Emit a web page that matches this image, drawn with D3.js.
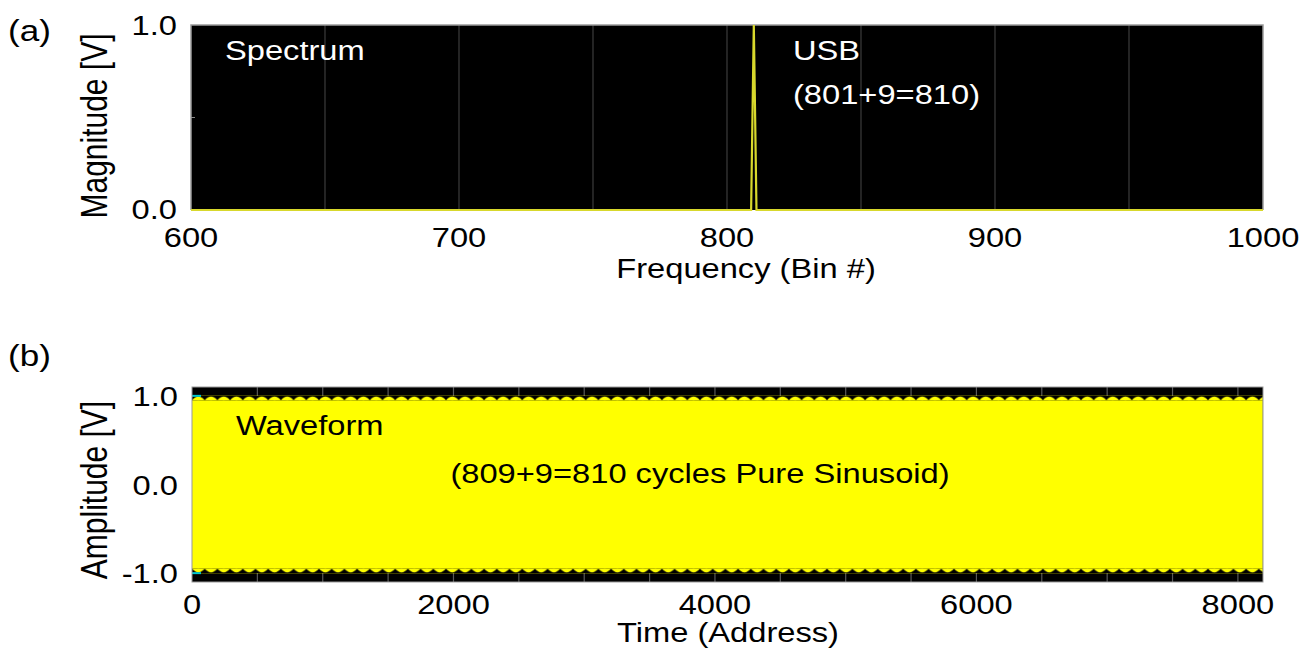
<!DOCTYPE html>
<html>
<head>
<meta charset="utf-8">
<script src="https://cdn.jsdelivr.net/npm/d3@7"></script>
<style>
  html, body { margin: 0; padding: 0; background: #fff; }
  svg { display: block; }
  text { font-family: "Liberation Sans", Arial, sans-serif; }
</style>
</head>
<body>
<svg id="chart" width="1312" height="649"></svg>
<script>
// ---- Spectrum (panel a) ----
const specBins = [600, 809, 810, 811, 1000];
const specMag  = [0.0, 0.0, 1.0, 0.0, 0.0];
const specXTicks = [600, 700, 800, 900, 1000];
const specGrid   = [650, 700, 750, 800, 850, 900, 950];
const specYTicks = [0.0, 1.0];
const specYMinor = [0.5];

// ---- Waveform (panel b): envelope of the 810-cycle sinusoid ----
const waveAddr  = [0, 8191];
const waveUpper = [1.0, 1.0];
const waveLower = [-1.0, -1.0];
const waveXTicks = [0, 2000, 4000, 6000, 8000];
const waveGrid   = d3.range(500, 8192, 500);
const waveYTicks = [1.0, 0.0, -1.0];

const FS = 27;      // label font size
const SX = 1.21;    // horizontal stretch of the lettering

const svg = d3.select("#chart");

function label(x, y, str, opts = {}) {
  const sx = opts.sx || SX;
  return svg.append("text")
    .attr("transform", `translate(${x},${y}) scale(${sx},1)` + (opts.rotate ? ` rotate(${opts.rotate})` : ""))
    .attr("text-anchor", opts.anchor || "start")
    .attr("font-size", opts.size || FS)
    .attr("fill", opts.fill || "#000")
    .text(str);
}

// ================= Panel (a) =================
const A = { left: 191, right: 1263, top: 25, bottom: 210 };
const xA = d3.scaleLinear().domain([600, 1000]).range([A.left, A.right]);
const yA = d3.scaleLinear().domain([0, 1]).range([A.bottom, A.top]);

svg.append("rect")
  .attr("x", A.left).attr("y", A.top)
  .attr("width", A.right - A.left).attr("height", A.bottom - A.top)
  .attr("fill", "#000");

svg.append("g").selectAll("line").data(specGrid).join("line")
  .attr("x1", d => xA(d)).attr("x2", d => xA(d))
  .attr("y1", A.top).attr("y2", A.bottom)
  .attr("stroke", "#3c3c3c").attr("stroke-width", 1.2);

svg.append("g").selectAll("line").data(specYMinor).join("line")
  .attr("x1", A.left).attr("x2", A.left + 4)
  .attr("y1", d => yA(d)).attr("y2", d => yA(d))
  .attr("stroke", "#888").attr("stroke-width", 1);

svg.append("path")
  .attr("d", `M${A.left},${A.bottom}V${A.top}H${A.right}V${A.bottom}`)
  .attr("fill", "none").attr("stroke", "#9a9a9a").attr("stroke-width", 1.5);

const specLine = d3.line().x((d, i) => xA(specBins[i])).y(d => yA(d));
svg.append("path")
  .datum(specMag)
  .attr("d", specLine)
  .attr("fill", "none")
  .attr("stroke", "#d8d82c")
  .attr("stroke-width", 2.2)
  .attr("stroke-linejoin", "miter");

specYTicks.forEach(v => label(177, yA(v) + (v === 1 ? 10 : 9), v.toFixed(1), { anchor: "end" }));
specXTicks.forEach(v => label(xA(v), 247, String(v), { anchor: "middle" }));
label(746, 278, "Frequency (Bin #)", { anchor: "middle" });
label(107, 126, "Magnitude [V]", { anchor: "middle", rotate: -90, size: 30, sx: 1.25 });
label(8, 41, "(a)", { size: 29 });
label(225, 60, "Spectrum", { fill: "#fff" });
label(793, 60, "USB", { fill: "#fff" });
label(793, 104, "(801+9=810)", { fill: "#fff" });

// ================= Panel (b) =================
const B = { left: 192, right: 1263, top: 387, bottom: 582 };
const xB = d3.scaleLinear().domain([0, 8192]).range([B.left, B.right]);
const yB = d3.scaleLinear().domain([-1.1, 1.1]).range([B.bottom, B.top]);

svg.append("rect")
  .attr("x", B.left).attr("y", B.top)
  .attr("width", B.right - B.left).attr("height", B.bottom - B.top)
  .attr("fill", "#000");

svg.append("g").selectAll("line").data(waveGrid).join("line")
  .attr("x1", d => xB(d)).attr("x2", d => xB(d))
  .attr("y1", B.top).attr("y2", B.bottom)
  .attr("stroke", "#5a5a5a").attr("stroke-width", 1.2);

const waveArea = d3.area()
  .x((d, i) => xB(waveAddr[i]))
  .y0((d, i) => yB(waveLower[i]))
  .y1(d => yB(d));
svg.append("path")
  .datum(waveUpper)
  .attr("d", waveArea)
  .attr("fill", "#ffff00");

// scalloped edge left by the sampled peaks
const defs = svg.append("defs");
const pw = 12.7, ph = 4.5;
defs.append("pattern")
  .attr("id", "cuspTop").attr("patternUnits", "userSpaceOnUse")
  .attr("x", B.left).attr("y", yB(1.0))
  .attr("width", pw).attr("height", ph)
  .append("path")
  .attr("d", `M0,0H${pw}V${ph}Q${pw / 2},-3 0,${ph}Z`)
  .attr("fill", "#000");
defs.append("pattern")
  .attr("id", "cuspBot").attr("patternUnits", "userSpaceOnUse")
  .attr("x", B.left).attr("y", yB(-1.0) - ph)
  .attr("width", pw).attr("height", ph)
  .append("path")
  .attr("d", `M0,${ph}H${pw}V0Q${pw / 2},${ph + 3} 0,0Z`)
  .attr("fill", "#000");
svg.append("rect")
  .attr("x", xB(waveAddr[0])).attr("y", yB(1.0))
  .attr("width", xB(waveAddr[1]) - xB(waveAddr[0])).attr("height", ph)
  .attr("fill", "url(#cuspTop)");
svg.append("rect")
  .attr("x", xB(waveAddr[0])).attr("y", yB(-1.0) - ph)
  .attr("width", xB(waveAddr[1]) - xB(waveAddr[0])).attr("height", ph)
  .attr("fill", "url(#cuspBot)");

// cyan level markers at +/-1.0
svg.append("g").selectAll("line").data([1.0, -1.0]).join("line")
  .attr("x1", B.left).attr("x2", B.left + 9)
  .attr("y1", d => yB(d)).attr("y2", d => yB(d))
  .attr("stroke", "#00c8d0").attr("stroke-width", 2);

svg.append("rect")
  .attr("x", B.left).attr("y", B.top)
  .attr("width", B.right - B.left).attr("height", B.bottom - B.top)
  .attr("fill", "none").attr("stroke", "#9a9a9a").attr("stroke-width", 1);

waveYTicks.forEach(v => label(178, yB(v) + 10, v.toFixed(1), { anchor: "end" }));
waveXTicks.forEach(v => label(xB(v), 614, String(v), { anchor: "middle" }));
label(728, 642, "Time (Address)", { anchor: "middle" });
label(107, 490, "Amplitude [V]", { anchor: "middle", rotate: -90, size: 30, sx: 1.25 });
label(8, 366, "(b)", { size: 29 });
label(236, 435, "Waveform");
label(700, 483, "(809+9=810 cycles Pure Sinusoid)", { anchor: "middle" });
</script>
</body>
</html>
